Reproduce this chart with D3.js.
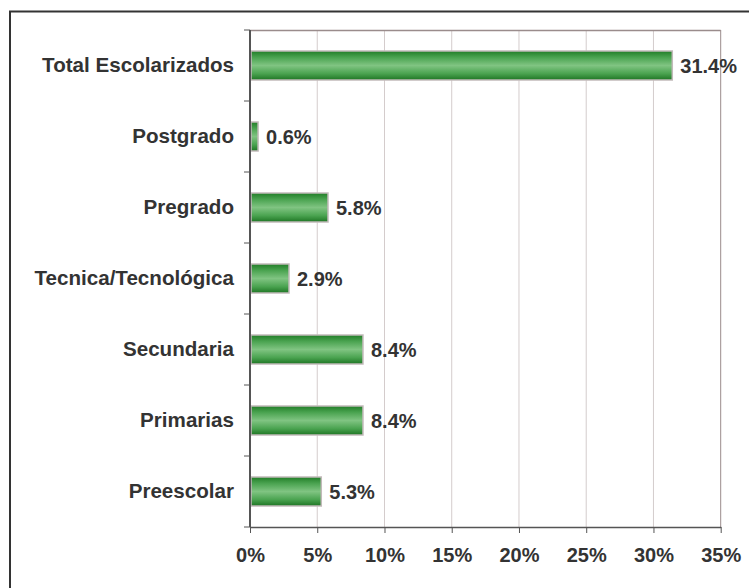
<!DOCTYPE html>
<html><head><meta charset="utf-8">
<script src="https://cdn.jsdelivr.net/npm/d3@7"></script>
<style>body{margin:0;background:#fff;} svg{display:block;}</style>
</head><body>
<script>
const categories = ["Total Escolarizados","Postgrado","Pregrado","Tecnica/Tecnológica","Secundaria","Primarias","Preescolar"];
const values = [31.4, 0.6, 5.8, 2.9, 8.4, 8.4, 5.3];
const xTicks = [0,5,10,15,20,25,30,35];

(function(){
const W = 749, H = 588;
const svg = d3.select("body").append("svg").attr("width", W).attr("height", H);

const defs = svg.append("defs");
const grad = defs.append("linearGradient").attr("id","g").attr("x1",0).attr("y1",0).attr("x2",0).attr("y2",1);
[[0,"#217d27"],[0.22,"#4aa350"],[0.5,"#80c482"],[0.78,"#4aa350"],[1,"#1e7524"]].forEach(([o,c])=>
  grad.append("stop").attr("offset",o).attr("stop-color",c));

// outer frame
svg.append("rect").attr("x",10).attr("y",11.5).attr("width",W+20).attr("height",H+20)
  .attr("fill","none").attr("stroke","#333").attr("stroke-width",2);

const pLeft = 250, pRight = 720.7, pTop = 30, pBottom = 527;
const x = d3.scaleLinear().domain([0,35]).range([pLeft,pRight]);
const y = d3.scaleBand().domain(categories).range([pTop,pBottom]).paddingInner(0).paddingOuter(0);
const font = "'Liberation Sans', Arial, sans-serif";
const fs = 20;

// gridlines
svg.append("g").selectAll("line").data(xTicks.slice(1)).join("line")
  .attr("x1",d=>x(d)).attr("x2",d=>x(d)).attr("y1",pTop).attr("y2",pBottom)
  .attr("stroke",d=>d===35?"#9a8c8c":"#d4cccc").attr("stroke-width",1);
// top border
svg.append("line").attr("x1",pLeft).attr("x2",pRight).attr("y1",pTop+0.5).attr("y2",pTop+0.5)
  .attr("stroke","#9a8c8c").attr("stroke-width",1.5);

// bars
const bh = 29;
svg.append("g").selectAll("rect").data(values).join("rect")
  .attr("x",pLeft+1).attr("y",(d,i)=>y(categories[i])+y.bandwidth()/2-bh/2)
  .attr("width",d=>x(d)-pLeft-1).attr("height",bh)
  .attr("fill","url(#g)").attr("stroke","#c2baba").attr("stroke-width",1.5);

// value labels
svg.append("g").selectAll("text").data(values).join("text")
  .attr("x",d=>x(d)+8).attr("y",(d,i)=>y(categories[i])+y.bandwidth()/2)
  .attr("dy","0.35em").attr("font-family",font).attr("font-weight","bold").attr("font-size",fs)
  .attr("fill","#333").text(d=>d.toFixed(1)+"%");

// y axis
const yAxis = svg.append("g").attr("transform",`translate(${pLeft},0)`)
  .call(d3.axisLeft(y).tickSize(0).tickPadding(16));
yAxis.select(".domain").remove();
yAxis.selectAll("text").attr("font-family",font).attr("font-weight","bold").attr("font-size",20.6).attr("fill","#333");
const bounds = categories.map(c=>y(c)).concat([pBottom]);
svg.append("g").selectAll("line").data(bounds).join("line")
  .attr("x1",pLeft-6).attr("x2",pLeft).attr("y1",d=>d).attr("y2",d=>d)
  .attr("stroke","#555").attr("stroke-width",1);
svg.append("line").attr("x1",pLeft).attr("x2",pLeft).attr("y1",pTop).attr("y2",pBottom)
  .attr("stroke","#555").attr("stroke-width",2);

// x axis
const xAxis = svg.append("g").attr("transform",`translate(0,${pBottom})`)
  .call(d3.axisBottom(x).tickValues(xTicks).tickFormat(d=>d+"%").tickSize(6).tickSizeOuter(0).tickPadding(15));
xAxis.select(".domain").attr("stroke","#555").attr("stroke-width",1.5);
xAxis.selectAll(".tick line").attr("stroke","#555");
xAxis.selectAll("text").attr("font-family",font).attr("font-weight","bold").attr("font-size",fs).attr("fill","#333");
})();
</script>
</body></html>
